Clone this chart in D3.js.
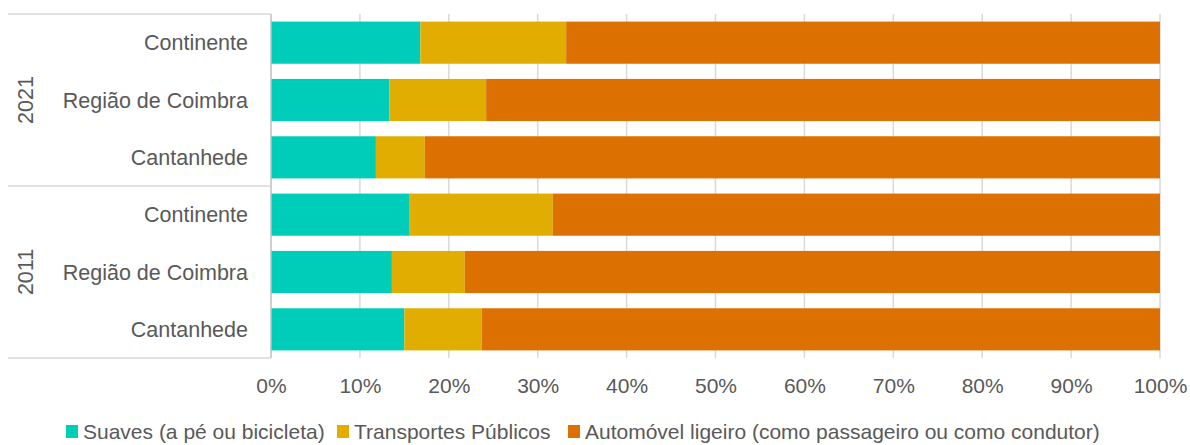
<!DOCTYPE html>
<html><head><meta charset="utf-8">
<script src="https://cdn.jsdelivr.net/npm/d3@7"></script>
<style>body{margin:0;background:#fff}svg{display:block}text{font-family:"Liberation Sans",Arial,sans-serif;fill:#595959}</style>
</head><body>
<svg id="c" width="1190" height="445"></svg>
<script>
const years = ["2021","2011"];
const places = ["Continente","Região de Coimbra","Cantanhede"];
const seriesNames = ["Suaves (a pé ou bicicleta)","Transportes Públicos","Automóvel ligeiro (como passageiro ou como condutor)"];
const colors = ["#00CDB9","#E1AD01","#DC7102"];
const suaves =      [16.8, 13.3, 11.8, 15.6, 13.6, 15.0];
const transportes = [16.4, 10.9, 5.5, 16.1, 8.2, 8.7];
const automovel =   [66.8, 75.8, 82.7, 68.3, 78.2, 76.3];
const ticks = [0,10,20,30,40,50,60,70,80,90,100];

const rows = [];
years.forEach((y,gi)=>places.forEach((p,pi)=>{const i=gi*3+pi;rows.push({key:y+"|"+p,year:y,place:p,vals:[suaves[i],transportes[i],automovel[i]]});}));

const svg = d3.select("#c");
const m = {left:271,right:1160,top:14,bottom:358};
const x = d3.scaleLinear().domain([0,100]).range([m.left,m.right]);
const yb = d3.scaleBand().domain(rows.map(r=>r.key)).range([m.top,m.bottom]).paddingInner(0.265).paddingOuter(0.1325);

// gridlines
svg.append("g").selectAll("line").data(ticks.slice(1)).join("line")
  .attr("x1",d=>x(d)).attr("x2",d=>x(d)).attr("y1",m.top).attr("y2",m.bottom)
  .attr("stroke","#d9d9d9").attr("stroke-width",1.5);

// bars
const stack = d3.stack().keys([0,1,2]).value((r,k)=>r.vals[k])(rows);
svg.append("g").selectAll("g").data(stack).join("g").attr("fill",(d,i)=>colors[i])
  .selectAll("rect").data(d=>d).join("rect")
  .attr("x",d=>x(d[0])).attr("width",d=>x(d[1])-x(d[0]))
  .attr("y",d=>yb(d.data.key)).attr("height",yb.bandwidth());

// category axis lines
const ax = svg.append("g").attr("stroke","#d9d9d9").attr("stroke-width",1.5);
ax.append("line").attr("x1",m.left).attr("x2",m.left).attr("y1",m.top).attr("y2",m.bottom).attr("stroke","#bfbfbf");
const groupB = [m.top, (m.top+m.bottom)/2, m.bottom];
groupB.forEach(yy=>ax.append("line").attr("x1",8).attr("x2",m.left).attr("y1",yy).attr("y2",yy));

// place labels
svg.append("g").selectAll("text").data(rows).join("text")
  .attr("x",248).attr("y",d=>yb(d.key)+yb.bandwidth()/2).attr("dy","0.35em")
  .attr("text-anchor","end").style("font-size","21.5px").text(d=>d.place);

// year labels
years.forEach((yr,i)=>{
  const cy=(groupB[i]+groupB[i+1])/2;
  svg.append("text").attr("transform",`translate(33,${cy}) rotate(-90)`)
    .attr("text-anchor","middle").style("font-size","21.5px").text(yr);
});

// x axis
const xa = svg.append("g").attr("transform",`translate(0,${m.bottom})`)
  .call(d3.axisBottom(x).tickValues(ticks).tickFormat(d=>d+"%").tickSize(0).tickPadding(20));
xa.select(".domain").remove();
xa.selectAll("text").style("font-size","21px").attr("fill","#595959").style("font-family","Liberation Sans, Arial, sans-serif");

// legend
const legX = [66,337,568];
const lg = svg.append("g").attr("transform","translate(0,432)");
seriesNames.forEach((n,i)=>{
  lg.append("rect").attr("x",legX[i]).attr("y",-7).attr("width",12).attr("height",13).attr("fill",colors[i]);
  lg.append("text").attr("x",legX[i]+17).attr("y",0).attr("dy","0.35em").style("font-size","21px").text(n);
});
</script>
</body></html>
